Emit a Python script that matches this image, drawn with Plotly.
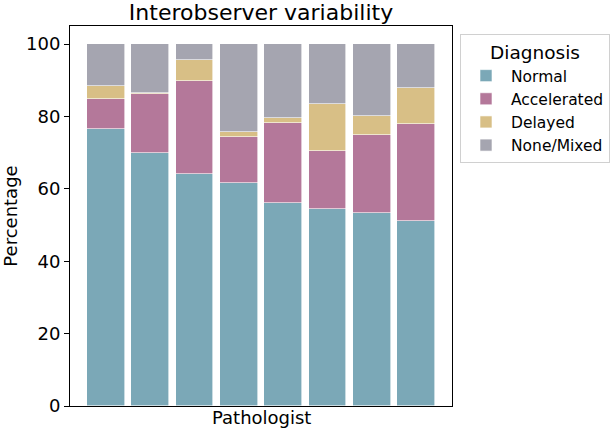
import plotly.graph_objects as go

pathologists = ["P1", "P2", "P3", "P4", "P5", "P6", "P7", "P8"]
normal = [76.6, 70.0, 64.2, 61.5, 56.0, 54.5, 53.4, 51.0]
accelerated = [8.1, 16.1, 25.5, 12.9, 22.2, 16.1, 21.4, 26.9]
delayed = [3.6, 0.3, 5.8, 1.3, 1.4, 12.8, 5.4, 9.9]
none_mixed = [round(100 - a - b - c, 1) for a, b, c in zip(normal, accelerated, delayed)]

series = [
    ("Normal", normal, "rgb(123,168,183)"),
    ("Accelerated", accelerated, "rgb(180,120,154)"),
    ("Delayed", delayed, "rgb(216,191,134)"),
    ("None/Mixed", none_mixed, "rgb(165,165,176)"),
]

FONT = "DejaVu Sans"
fig = go.Figure()
xs = list(range(len(pathologists)))
for name, vals, col in series:
    fig.add_trace(go.Bar(x=xs, y=vals, name=name, width=0.85,
                         marker=dict(color=col, line=dict(width=0.6, color="white"))))

fig.update_layout(
    barmode="stack",
    width=613, height=430,
    margin=dict(l=70, r=161, t=26, b=24, autoexpand=False),
    paper_bgcolor="white", plot_bgcolor="white",
    font=dict(family=FONT, size=18, color="black"),
    title=dict(text="Interobserver variability", x=(70 + 452) / 2 / 613, xanchor="center",
               xref="container",
               y=1 - 12 / 430, yanchor="middle", yref="container",
               font=dict(size=22, family=FONT)),
    showlegend=True,
    legend=dict(
        title=dict(text="Diagnosis", font=dict(size=18.5, family=FONT), side="top center"),
        font=dict(size=15.5, family=FONT),
        x=(460 - 70) / 382, xanchor="left", y=1 - (34 - 26) / 380, yanchor="top",
        bordercolor="#d0d0d0", borderwidth=1, bgcolor="white",
        traceorder="normal", tracegroupgap=0, itemwidth=40,
    ),
    bargap=0,
    annotations=[dict(text="Pathologist", x=0.5, xref="paper", xanchor="center",
                      y=-(417 - 406) / 380, yref="paper", yanchor="middle",
                      showarrow=False, font=dict(size=18, family=FONT))],
)
fig.update_xaxes(range=[-0.8125, 7.8125], showticklabels=False, ticks="",
                 showline=True, linecolor="black", linewidth=1, mirror=True,
                 showgrid=False, zeroline=False, automargin=False)
fig.update_yaxes(range=[0, 105], tickvals=[0, 20, 40, 60, 80, 100],
                 ticks="outside", ticklen=5, tickcolor="black", tickwidth=1,
                 showline=True, linecolor="black", linewidth=1, mirror=True,
                 showgrid=False, zeroline=False, tickfont=dict(size=18), automargin=False,
                 title=dict(text="Percentage", standoff=18, font=dict(size=18)))

fig.write_html("out.html", config={"displayModeBar": False},
               post_script="document.body.style.margin='0';")
